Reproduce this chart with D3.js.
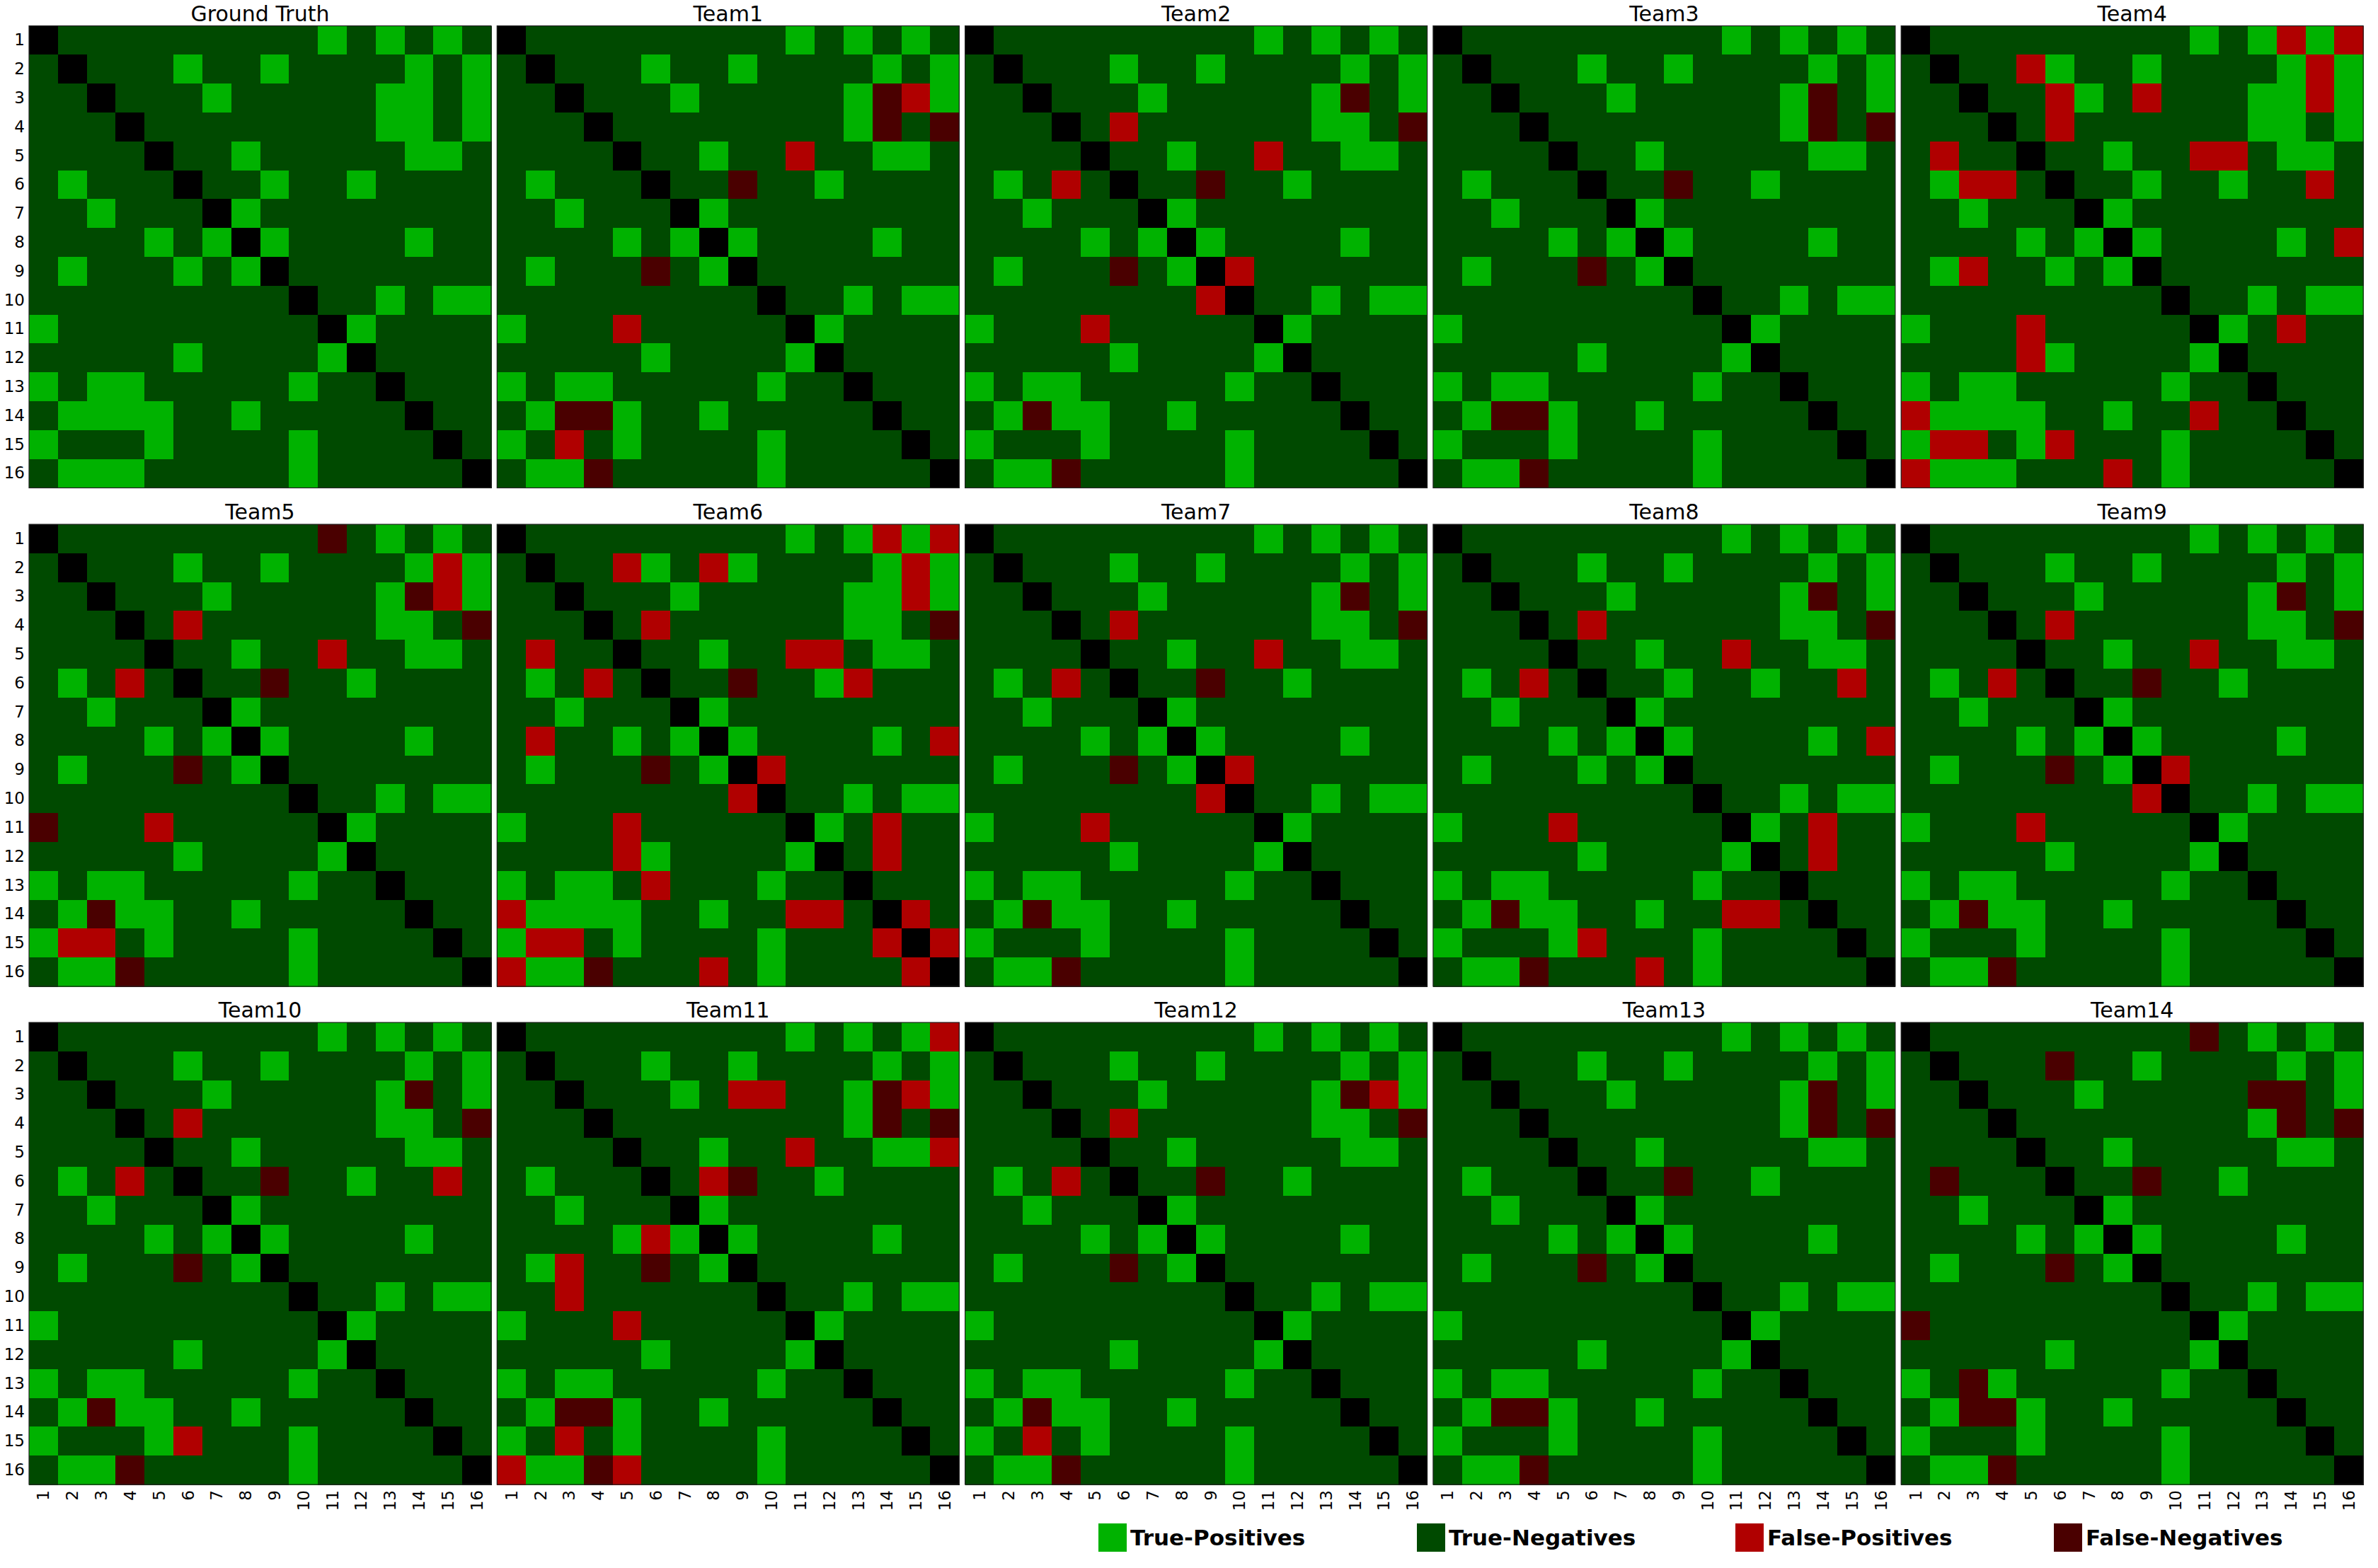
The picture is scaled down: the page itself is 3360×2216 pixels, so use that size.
<!DOCTYPE html>
<html>
<head>
<meta charset="utf-8">
<script src="https://cdn.jsdelivr.net/npm/d3@7"></script>
<style>
    body { margin: 0; background: #fff; }
    svg { display: block; font-family: "DejaVu Sans", sans-serif; }
</style>
</head>
<body>
<div id="chart"></div>
<script>
const nodeLabels = ['1', '2', '3', '4', '5', '6', '7', '8', '9', '10', '11', '12', '13', '14', '15', '16'];

const panelTitles = ['Ground Truth', 'Team1', 'Team2', 'Team3', 'Team4',
    'Team5', 'Team6', 'Team7', 'Team8', 'Team9',
    'Team10', 'Team11', 'Team12', 'Team13', 'Team14'];

/* undirected edges of the true network, i < j */
const truthEdges = [[1, 11], [1, 13], [1, 15], [2, 6], [2, 9], [2, 14], [2, 16], [3, 7], [3, 13], [3, 14],
    [3, 16], [4, 13], [4, 14], [4, 16], [5, 8], [5, 14], [5, 15], [6, 9], [6, 12], [7, 8],
    [8, 9], [8, 14], [10, 13], [10, 15], [10, 16], [11, 12]];

/* one list per team (Team1 .. Team14) */
const falsePositives = [
    [[3, 15], [5, 11]],
    [[4, 6], [5, 11], [9, 10]],
    [],
    [[1, 14], [1, 16], [2, 5], [2, 15], [3, 6], [3, 9], [3, 15], [4, 6], [5, 11], [5, 12], [6, 15], [8, 16], [11, 14]],
    [[2, 15], [3, 15], [4, 6], [5, 11]],
    [[1, 14], [1, 16], [2, 5], [2, 8], [2, 15], [3, 15], [4, 6], [5, 11], [5, 12], [6, 13], [8, 16], [9, 10], [11, 14], [12, 14], [14, 15], [15, 16]],
    [[4, 6], [5, 11], [9, 10]],
    [[4, 6], [5, 11], [6, 15], [8, 16], [11, 14], [12, 14]],
    [[4, 6], [5, 11], [9, 10]],
    [[4, 6], [6, 15]],
    [[1, 16], [3, 9], [3, 10], [3, 15], [5, 11], [5, 16], [6, 8]],
    [[3, 15], [4, 6]],
    [],
    []
];

const falseNegatives = [
    [[3, 14], [4, 14], [4, 16], [6, 9]],
    [[3, 14], [4, 16], [6, 9]],
    [[3, 14], [4, 14], [4, 16], [6, 9]],
    [],
    [[1, 11], [3, 14], [4, 16], [6, 9]],
    [[4, 16], [6, 9]],
    [[3, 14], [4, 16], [6, 9]],
    [[3, 14], [4, 16]],
    [[3, 14], [4, 16], [6, 9]],
    [[3, 14], [4, 16], [6, 9]],
    [[3, 14], [4, 14], [4, 16], [6, 9]],
    [[3, 14], [4, 16], [6, 9]],
    [[3, 14], [4, 14], [4, 16], [6, 9]],
    [[1, 11], [2, 6], [3, 13], [3, 14], [4, 14], [4, 16], [6, 9]]
];

const legendLabels = ['True-Positives', 'True-Negatives', 'False-Positives', 'False-Negatives'];

const COLORS = {
    tp: '#00b200',
    tn: '#004a00',
    fp: '#b00000',
    fn: '#4a0000',
    diag: '#000000'
};

const W = 3360;
const H = 2216;
const panelSize = 653;
const panelLeft = 41;
const panelStepX = 661.3;
const panelTops = [36.5, 741, 1445];

const svg = d3.select('#chart').append('svg')
    .attr('width', W)
    .attr('height', H);

svg.append('rect')
    .attr('width', W)
    .attr('height', H)
    .attr('fill', '#fff');

const xScale = d3.scaleBand(nodeLabels, [0, panelSize]);
const yScale = d3.scaleBand(nodeLabels, [0, panelSize]);

const key = (a, b) => a < b ? `${a}-${b}` : `${b}-${a}`;
const truthSet = new Set(truthEdges.map(e => key(e[0], e[1])));

function cellState (i, j, fpSet, fnSet) {
    if (i === j) return 'diag';
    const k = key(i, j);
    if (truthSet.has(k)) return fnSet.has(k) ? 'fn' : 'tp';
    return fpSet.has(k) ? 'fp' : 'tn';
}

panelTitles.forEach((title, p) => {
    const col = p % 5;
    const row = Math.floor(p / 5);
    const fpSet = new Set(p === 0 ? [] : falsePositives[p - 1].map(e => key(e[0], e[1])));
    const fnSet = new Set(p === 0 ? [] : falseNegatives[p - 1].map(e => key(e[0], e[1])));

    const cells = [];
    nodeLabels.forEach((r, i) => {
        nodeLabels.forEach((c, j) => {
            cells.push({ r, c, state: cellState(i + 1, j + 1, fpSet, fnSet) });
        });
    });

    const g = svg.append('g')
        .attr('transform', `translate(${panelLeft + col * panelStepX}, ${panelTops[row]})`);

    g.selectAll('rect.cell')
        .data(cells)
        .enter()
        .append('rect')
            .attr('class', 'cell')
            .attr('x', d => xScale(d.c))
            .attr('y', d => yScale(d.r))
            .attr('width', xScale.bandwidth() + 0.5)
            .attr('height', yScale.bandwidth() + 0.5)
            .attr('shape-rendering', 'crispEdges')
            .attr('fill', d => COLORS[d.state]);

    g.append('rect')
        .attr('width', panelSize)
        .attr('height', panelSize)
        .attr('fill', 'none')
        .attr('stroke', '#222')
        .attr('stroke-width', 1.2);

    g.append('text')
        .attr('x', panelSize / 2)
        .attr('y', -7)
        .attr('text-anchor', 'middle')
        .style('font-size', '30px')
        .text(title);

    if (col === 0) {
        const yAxis = g.append('g')
            .call(d3.axisLeft(yScale).tickSize(0).tickPadding(6));
        yAxis.select('.domain').remove();
        yAxis.selectAll('text')
            .style('font-size', '23px')
            .style('font-family', '"DejaVu Sans", sans-serif')
            .attr('fill', '#000');
    }

    if (row === 2) {
        const xAxis = g.append('g')
            .attr('transform', `translate(0, ${panelSize})`)
            .call(d3.axisBottom(xScale).tickSize(0));
        xAxis.select('.domain').remove();
        xAxis.selectAll('text')
            .style('font-size', '23px')
            .style('font-family', '"DejaVu Sans", sans-serif')
            .attr('fill', '#000')
            .attr('text-anchor', 'end')
            .attr('dy', '0.35em')
            .attr('transform', 'translate(0, 8) rotate(-90)')
            .attr('x', 0)
            .attr('y', 0);
    }
});

/* legend */
const legendStates = ['tp', 'tn', 'fp', 'fn'];
const legend = svg.append('g')
    .attr('transform', 'translate(1552, 2153)');

const item = legend.selectAll('g')
    .data(legendLabels)
    .enter()
    .append('g')
        .attr('transform', (d, i) => `translate(${i * 450}, 0)`);

item.append('rect')
    .attr('width', 40)
    .attr('height', 40)
    .attr('fill', (d, i) => COLORS[legendStates[i]]);

item.append('text')
    .attr('x', 45)
    .attr('y', 31)
    .style('font-size', '31px')
    .style('font-weight', 'bold')
    .text(d => d);
</script>
</body>
</html>
